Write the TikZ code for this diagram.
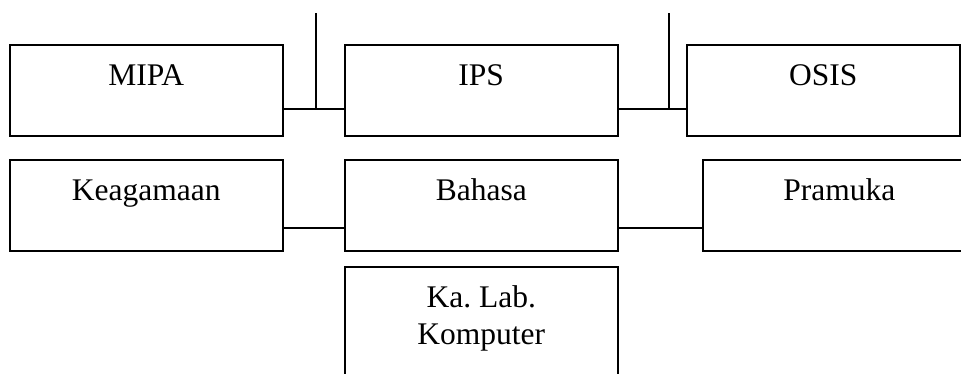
\documentclass[tikz,border=0pt]{standalone}
\usepackage{fontspec}
\setmainfont{Liberation Serif}
\frenchspacing
\begin{document}
\begin{tikzpicture}[x=1pt,y=-1pt,
  box/.style={draw, line width=1.5pt, anchor=north west, inner sep=0pt,
    minimum width=273pt, text height=41pt, text depth=50pt,
    font=\fontsize{31.5}{37}\selectfont},
  wire/.style={line width=1.5pt}]
\useasboundingbox (0,0) rectangle (961,373);

% upper row
\node[box] (mipa) at (9,44) {MIPA};
\node[box] (ips)  at (344,44) {IPS};
\node[box] (osis) at (686,44) {OSIS};

% lower row
\node[box] (keag) at (9,159) {Keagamaan};
\node[box] (bhs)  at (344,159) {Bahasa};
\node[box] (pram) at (702,159) {Pramuka};
\node[box, align=center, text height=78pt, text depth=42pt] (lab) at (344,266)
  {Ka. Lab.\\Komputer};

% junctions of the incoming vertical lines
\coordinate (t1) at (316,13);
\coordinate (j1) at (316,109);
\coordinate (t2) at (669,13);
\coordinate (j2) at (669,109);

\draw[wire] (t1) -- (j1);
\draw[wire] (mipa.east |- j1) -- (ips.west |- j1);
\draw[wire] (t2) -- (j2);
\draw[wire] (ips.east |- j2) -- (osis.west |- j2);

% lower row links
\coordinate (r1) at ([yshift=-22.5pt]keag.east);
\coordinate (r2) at ([yshift=-22.5pt]bhs.east);
\draw[wire] (r1) -- (bhs.west |- r1);
\draw[wire] (r2) -- (pram.west |- r2);
\end{tikzpicture}
\end{document}
